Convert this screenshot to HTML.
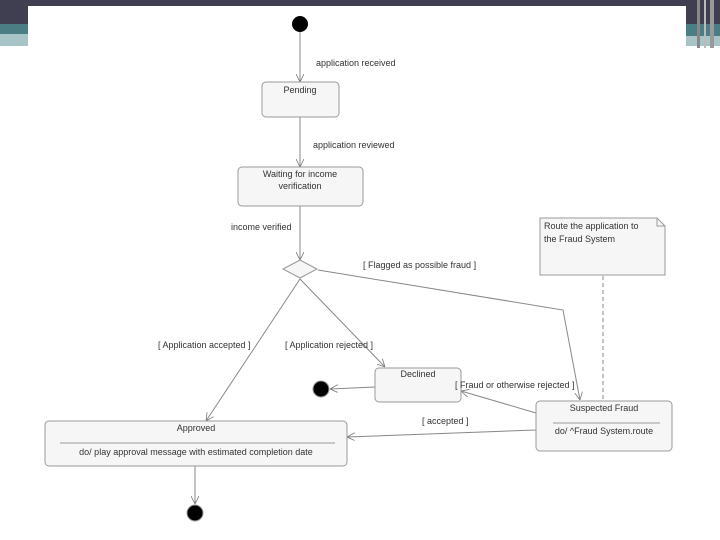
<!DOCTYPE html>
<html><head><meta charset="utf-8"><style>
html,body{margin:0;padding:0;width:720px;height:540px;overflow:hidden;background:#fff}
svg{display:block}
text{font-family:"Liberation Sans",sans-serif;font-size:9px;fill:#333}
</style></head><body>
<svg width="720" height="540" viewBox="0 0 720 540" xmlns="http://www.w3.org/2000/svg">
<defs>
<marker id="a" viewBox="0 0 10 10" refX="10" refY="5" markerWidth="8" markerHeight="8" orient="auto-start-reverse" markerUnits="userSpaceOnUse">
<path d="M0,0 L10,5 L0,10" fill="none" stroke="#777" stroke-width="1"/></marker>
</defs>
<!-- frame decorations -->
<rect x="0" y="0" width="720" height="6" fill="#403f52"/>
<rect x="0" y="6" width="28" height="18" fill="#403f52"/>
<rect x="0" y="24" width="28" height="10" fill="#4a7e84"/>
<rect x="0" y="34" width="28" height="12" fill="#a9c4c6"/>
<rect x="686" y="6" width="34" height="18" fill="#403f52"/>
<rect x="686" y="24" width="34" height="12" fill="#4a7e84"/>
<rect x="686" y="36" width="34" height="10" fill="#a9c4c6"/>
<rect x="697" y="0" width="3" height="48" fill="#888"/>
<rect x="704" y="0" width="2" height="48" fill="#bbb"/>
<rect x="710" y="0" width="4" height="48" fill="#999"/>
<rect x="28" y="6" width="658" height="534" fill="#fff"/>

<g stroke="#888" stroke-width="1" fill="none">
<line x1="300" y1="31" x2="300" y2="82" marker-end="url(#a)"/>
<line x1="300" y1="117" x2="300" y2="167" marker-end="url(#a)"/>
<line x1="300" y1="206" x2="300" y2="260" marker-end="url(#a)"/>
<polyline points="318,270 563,310 580,400" marker-end="url(#a)"/>
<line x1="300" y1="279" x2="206" y2="421" marker-end="url(#a)"/>
<line x1="300" y1="279" x2="385" y2="367" marker-end="url(#a)"/>
<line x1="375" y1="387" x2="330" y2="389" marker-end="url(#a)"/>
<line x1="536" y1="413" x2="461" y2="391" marker-end="url(#a)"/>
<line x1="536" y1="430" x2="347" y2="437" marker-end="url(#a)"/>
<line x1="195" y1="466" x2="195" y2="504" marker-end="url(#a)"/>
<line x1="603" y1="276" x2="603" y2="400" stroke-dasharray="4,3"/>
</g>
<circle cx="300" cy="24" r="8" fill="#000"/>
<!-- boxes -->
<g fill="#f6f6f6" stroke="#999" stroke-width="1">
<rect x="262" y="82" width="77" height="35" rx="4"/>
<rect x="238" y="167" width="125" height="39" rx="4"/>
<rect x="375" y="368" width="86" height="34" rx="4"/>
<rect x="536" y="401" width="136" height="50" rx="4"/>
<rect x="45" y="421" width="302" height="45" rx="4"/>
<polygon points="283,269 300,260 317,269 300,278"/>
<polygon points="540,218 657,218 665,226 665,275 540,275"/>
</g>
<polyline points="657,218 657,226 665,226" fill="none" stroke="#999"/>
<line x1="553" y1="423" x2="660" y2="423" stroke="#999"/>
<line x1="60" y1="443" x2="335" y2="443" stroke="#999"/>
<circle cx="321" cy="389" r="8" fill="#000" stroke="#999" stroke-width="1"/>
<circle cx="195" cy="513" r="8" fill="#000" stroke="#999" stroke-width="1"/>
<!-- texts -->
<text x="316" y="66">application received</text>
<text x="300" y="93" text-anchor="middle">Pending</text>
<text x="313" y="148">application reviewed</text>
<text x="300" y="177" text-anchor="middle">Waiting for income</text>
<text x="300" y="189" text-anchor="middle">verification</text>
<text x="231" y="230">income verified</text>
<text x="363" y="268">[ Flagged as possible fraud ]</text>
<text x="544" y="229">Route the application to</text>
<text x="544" y="242">the Fraud System</text>
<text x="158" y="348">[ Application accepted ]</text>
<text x="285" y="348">[ Application rejected ]</text>
<text x="418" y="377" text-anchor="middle">Declined</text>
<text x="455" y="388">[ Fraud or otherwise rejected ]</text>
<text x="604" y="411" text-anchor="middle">Suspected Fraud</text>
<text x="604" y="434" text-anchor="middle">do/ ^Fraud System.route</text>
<text x="422" y="424">[ accepted ]</text>
<text x="196" y="431" text-anchor="middle">Approved</text>
<text x="196" y="455" text-anchor="middle">do/ play approval message with estimated completion date</text>
</svg>
</body></html>
